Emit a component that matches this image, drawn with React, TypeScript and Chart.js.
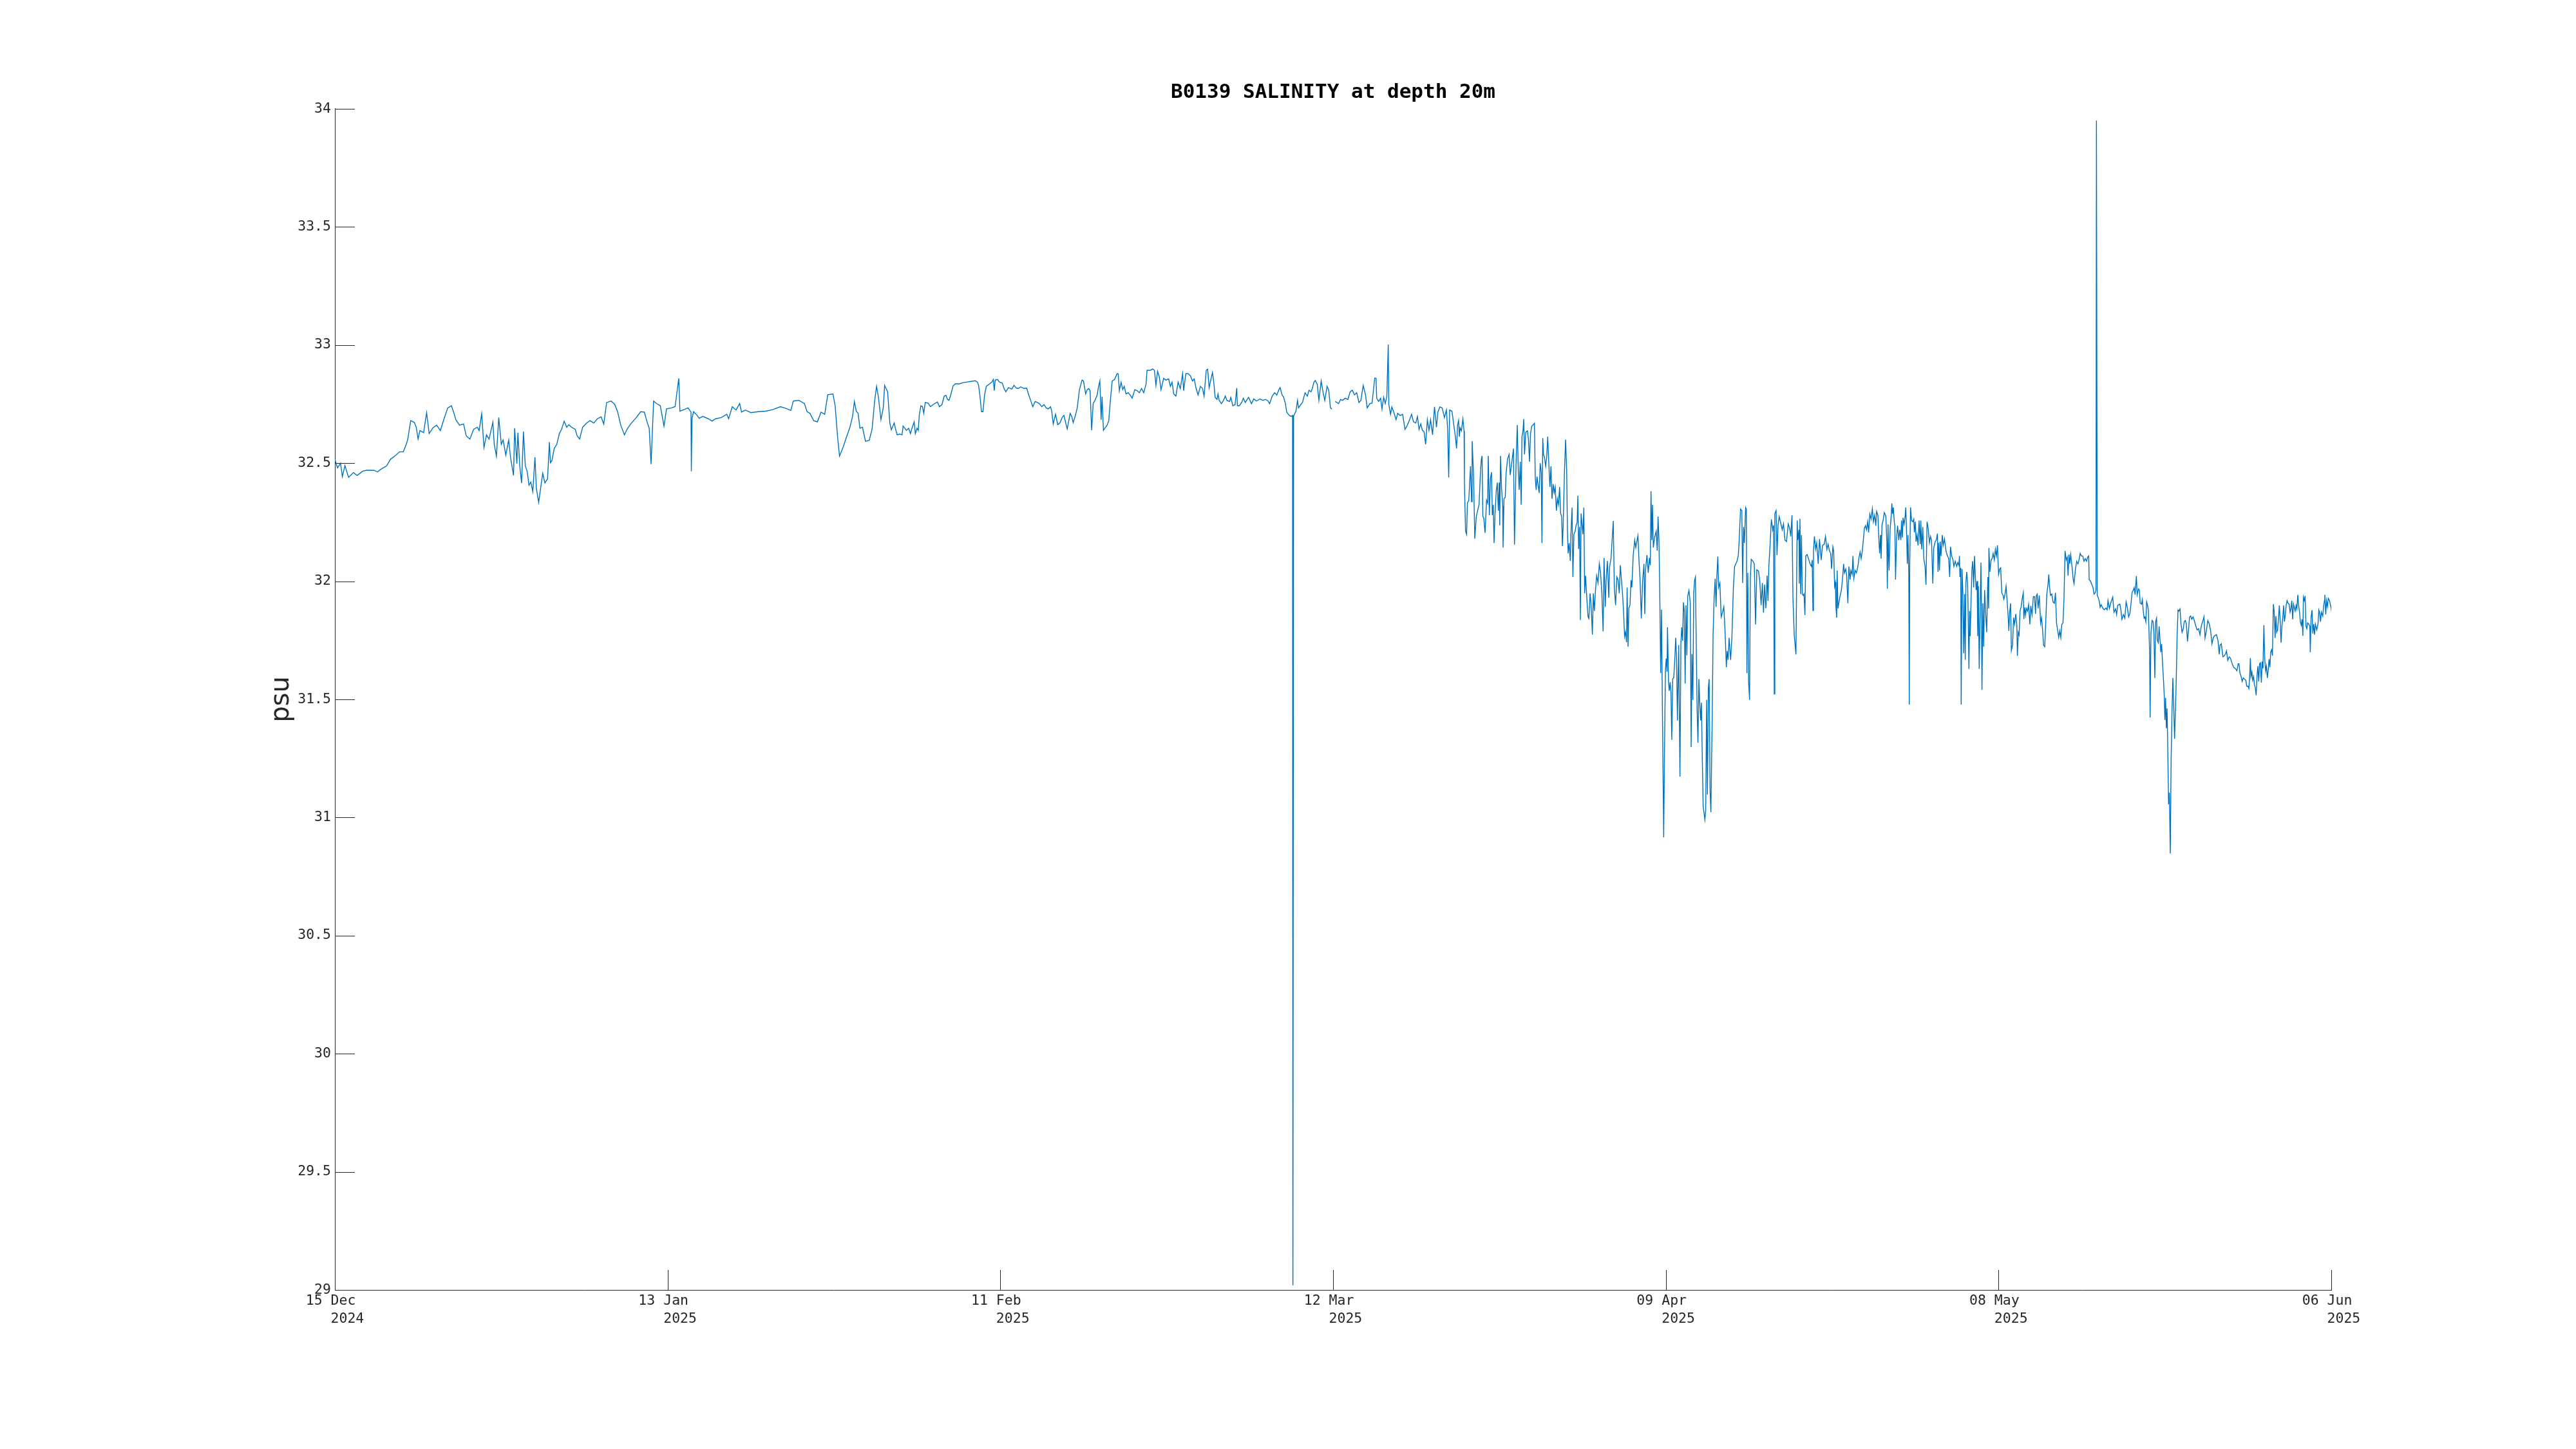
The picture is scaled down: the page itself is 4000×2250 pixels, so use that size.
import React, { useEffect, useRef } from "react";
import { Chart, registerables } from "chart.js";

Chart.register(...registerables);

type Reading = [number, number | null];

// x = days since 15 Dec 2024 00:00, y = salinity (psu)
const decJanReadings: Reading[] = [
  [0.00,32.516],[0.23,32.48],[0.49,32.50],[0.65,32.443],[0.87,32.49],[1.19,32.44],[1.61,32.46],[1.93,32.448],[2.41,32.466],[2.73,32.47],[3.37,32.47],[3.69,32.463],[4.01,32.475],[4.49,32.489],[4.81,32.516],[5.29,32.534],[5.61,32.548],[5.93,32.548],[6.19,32.58],[6.32,32.602],[6.57,32.68],[6.89,32.672],[7.05,32.652],[7.21,32.602],[7.37,32.638],[7.69,32.629],[7.95,32.714],[8.17,32.625],[8.50,32.65],[8.82,32.661],[9.14,32.638],[9.46,32.688],[9.78,32.734],[10.10,32.743],[10.35,32.707],[10.48,32.684],[10.80,32.661],[11.15,32.666],[11.38,32.616],[11.70,32.602],[12.02,32.643],[12.34,32.652],[12.50,32.638],[12.72,32.709],[12.92,32.566],[13.14,32.62],[13.36,32.602],[13.69,32.673],[13.81,32.58],[14.00,32.53],[14.20,32.693],[14.42,32.58],[14.58,32.598],[14.81,32.534],[15.06,32.598],[15.22,32.525],[15.48,32.448],[15.58,32.648],[15.77,32.498],[15.86,32.629],[16.02,32.489],[16.18,32.416],[16.34,32.634],[16.50,32.489],[16.66,32.466],[16.82,32.407],[16.98,32.42],[17.15,32.38],[17.34,32.525],[17.46,32.393],[17.66,32.334],[17.79,32.38],[18.01,32.457],[18.20,32.416],[18.43,32.434],[18.59,32.589],[18.68,32.502],[18.81,32.511],[19.00,32.561],[19.23,32.58],[19.45,32.625],[19.64,32.643],[19.87,32.678],[20.09,32.652],[20.28,32.663],[20.51,32.652],[20.83,32.643],[20.99,32.616],[21.21,32.602],[21.47,32.652],[21.79,32.669],[22.11,32.68],[22.43,32.67],[22.75,32.688],[23.07,32.696],[23.30,32.666],[23.55,32.757],[23.94,32.763],[24.26,32.748],[24.51,32.716],[24.77,32.661],[25.09,32.62],[25.31,32.643],[25.63,32.666],[26.12,32.693],[26.50,32.718],[26.82,32.716],[27.08,32.67],[27.24,32.648],[27.40,32.496],[27.62,32.763],[27.88,32.752],[28.20,32.743],[28.52,32.657],[28.74,32.73],[29.16,32.734],[29.48,32.739],[29.80,32.859],[29.90,32.72],[30.28,32.727],[30.60,32.734],[30.86,32.716],[30.89,32.466],[30.95,32.69],[31.08,32.718],[31.40,32.702],[31.56,32.69],[31.88,32.698],[32.36,32.688],[32.68,32.678],[33.00,32.688],[33.48,32.693],[33.96,32.707],[34.12,32.688],[34.44,32.739],[34.76,32.725],[35.08,32.752],[35.24,32.716],[35.57,32.725],[36.05,32.714],[36.69,32.718],[37.33,32.72],[37.97,32.727],[38.61,32.739],[39.09,32.732],[39.51,32.723],[39.73,32.763],[40.21,32.766],[40.69,32.752],[40.92,32.718],[41.17,32.711],[41.49,32.68],[41.81,32.675],[42.13,32.716],[42.45,32.707],[42.71,32.79],[43.16,32.793],[43.35,32.743],[43.57,32.607],[43.73,32.53],[44.06,32.57],[44.31,32.607],[44.63,32.652],[44.86,32.698],[45.02,32.761],[45.18,32.72],[45.34,32.711],[45.50,32.648],[45.72,32.652],[45.98,32.593],[46.30,32.596],[46.55,32.643],[46.78,32.766],[46.94,32.825],[47.10,32.78],[47.32,32.684],[47.52,32.734],[47.64,32.829],[47.90,32.802],
];

const febReadings: Reading[] = [
  [48.09,32.67],[48.22,32.641],[48.47,32.67],[48.57,32.648],[48.72,32.62],[48.95,32.623],[49.15,32.62],[49.24,32.657],[49.38,32.648],[49.53,32.639],[49.72,32.648],[49.88,32.625],[50.01,32.648],[50.20,32.675],[50.30,32.625],[50.45,32.648],[50.55,32.639],[50.65,32.707],[50.78,32.743],[50.92,32.739],[51.03,32.711],[51.16,32.757],[51.41,32.754],[51.61,32.739],[51.84,32.748],[52.03,32.754],[52.22,32.759],[52.38,32.739],[52.61,32.748],[52.80,32.784],[52.95,32.787],[53.09,32.77],[53.22,32.766],[53.39,32.793],[53.57,32.827],[53.76,32.836],[54.14,32.836],[54.43,32.841],[54.72,32.843],[55.10,32.846],[55.49,32.849],[55.68,32.843],[55.78,32.83],[55.91,32.78],[56.03,32.718],[56.16,32.718],[56.30,32.789],[56.45,32.825],[56.74,32.836],[56.93,32.843],[57.06,32.854],[57.14,32.807],[57.22,32.852],[57.41,32.854],[57.60,32.843],[57.83,32.839],[57.99,32.816],[58.14,32.802],[58.37,32.82],[58.66,32.814],[58.85,32.83],[59.04,32.818],[59.24,32.816],[59.43,32.823],[59.72,32.816],[59.95,32.818],[60.10,32.793],[60.29,32.766],[60.48,32.739],[60.68,32.761],[60.87,32.757],[61.06,32.752],[61.25,32.739],[61.45,32.748],[61.64,32.734],[61.83,32.73],[62.02,32.739],[62.12,32.72],[62.25,32.666],[62.45,32.707],[62.64,32.663],[62.83,32.67],[63.02,32.693],[63.18,32.702],[63.33,32.67],[63.46,32.645],[63.60,32.68],[63.71,32.711],[63.85,32.698],[63.98,32.672],[64.17,32.702],[64.33,32.734],[64.52,32.811],[64.75,32.852],[64.87,32.848],[65.06,32.793],[65.19,32.811],[65.33,32.816],[65.44,32.807],[65.58,32.639],[65.71,32.752],[65.87,32.766],[66.06,32.789],[66.17,32.823],[66.29,32.848],[66.40,32.684],[66.48,32.781],[66.60,32.639],[66.73,32.648],[66.92,32.661],[67.06,32.68],[67.21,32.77],[67.36,32.848],[67.56,32.854],[67.79,32.879],[67.88,32.878],[67.98,32.807],[68.13,32.843],[68.27,32.811],[68.40,32.825],[68.56,32.793],[68.75,32.798],[68.94,32.787],[69.09,32.775],[69.32,32.811],[69.52,32.807],[69.71,32.798],[69.90,32.816],[70.09,32.798],[70.29,32.834],[70.38,32.893],[70.67,32.893],[70.86,32.899],[71.02,32.893],[71.15,32.83],[71.29,32.889],[71.44,32.866],[71.59,32.811],[71.82,32.859],[72.02,32.852],[72.25,32.857],[72.40,32.825],[72.55,32.843],[72.69,32.793],[72.88,32.784],[73.07,32.843],[73.26,32.816],[73.46,32.879],[73.55,32.807],[73.74,32.879],[73.94,32.879],[74.13,32.87],[74.32,32.848],[74.47,32.857],[74.61,32.82],[74.80,32.789],[75.00,32.825],[75.19,32.816],[75.32,32.784],[75.51,32.893],[75.63,32.898],[75.76,32.82],[75.90,32.852],[76.05,32.884],[76.15,32.848],[76.28,32.779],[76.44,32.77],[76.53,32.793],[76.63,32.766],[76.82,32.752],[77.01,32.766],
];

const marReadings: Reading[] = [
  [77.16,32.784],[77.30,32.766],[77.53,32.761],[77.64,32.778],[77.81,32.743],[78.01,32.748],[78.15,32.818],[78.21,32.743],[78.38,32.743],[78.58,32.757],[78.72,32.775],[78.89,32.757],[79.18,32.779],[79.43,32.752],[79.63,32.772],[79.86,32.763],[80.15,32.772],[80.43,32.766],[80.66,32.77],[80.86,32.763],[81.00,32.752],[81.23,32.784],[81.43,32.798],[81.63,32.789],[81.80,32.811],[81.91,32.82],[82.08,32.789],[82.22,32.779],[82.37,32.752],[82.48,32.716],[82.71,32.702],[82.88,32.698],[82.99,32.702],[83.02,29.02],[83.08,32.70],[83.28,32.72],[83.42,32.766],[83.50,32.734],[83.70,32.748],[83.85,32.757],[84.07,32.798],[84.27,32.784],[84.42,32.809],[84.59,32.802],[84.70,32.816],[84.84,32.843],[84.96,32.85],[85.13,32.834],[85.27,32.766],[85.47,32.848],[85.64,32.798],[85.78,32.766],[85.98,32.825],[86.12,32.811],[86.27,32.734],[86.41,32.729],[86.55,null],[86.69,32.761],[86.98,32.752],[87.15,32.77],[87.32,32.766],[87.55,32.775],[87.78,32.77],[87.98,32.802],[88.17,32.809],[88.35,32.789],[88.55,32.798],[88.74,32.757],[88.91,32.766],[89.11,32.829],[89.31,32.789],[89.46,32.734],[89.68,32.752],[89.88,32.754],[90.11,32.86],[90.22,32.86],[90.28,32.775],[90.45,32.761],[90.62,32.775],[90.74,32.729],[90.88,32.779],[91.02,32.752],[91.16,32.784],[91.28,33.002],[91.33,32.748],[91.48,32.707],[91.59,32.738],[91.76,32.716],[91.96,32.684],[92.10,32.711],[92.30,32.702],[92.53,32.707],[92.73,32.643],[92.90,32.657],[93.10,32.68],[93.30,32.707],[93.47,32.675],[93.67,32.67],[93.81,32.698],[93.95,32.643],[94.10,32.666],[94.24,32.639],[94.38,32.634],[94.52,32.58],[94.67,32.684],[94.81,32.639],[94.95,32.684],[95.12,32.62],[95.29,32.738],[95.46,32.652],[95.58,32.716],[95.75,32.738],[95.95,32.734],[96.15,32.693],[96.32,32.725],[96.43,32.643],[96.52,32.439],[96.60,32.725],[96.80,32.72],
];

const aprReadings: Reading[] = [
  [97.10,32.612],[97.20,32.562],[97.29,32.662],[97.38,32.681],[97.44,32.612],[97.51,32.650],[97.62,32.637],[97.75,32.687],[97.85,32.637],[97.88,32.424],[97.98,32.212],[98.07,32.199],[98.14,32.331],[98.26,32.343],[98.41,32.487],[98.50,32.337],[98.55,32.593],[98.67,32.456],[98.78,32.180],[98.91,32.274],[99.06,32.306],[99.15,32.324],[99.26,32.45],[99.34,32.512],[99.41,32.531],[99.48,32.274],[99.56,32.268],[99.67,32.205],[99.80,32.343],[99.89,32.331],[99.95,32.531],[100.04,32.28],[100.14,32.437],[100.23,32.462],[100.30,32.28],[100.38,32.324],[100.45,32.162],[100.53,32.28],[100.64,32.381],[100.73,32.418],[100.82,32.299],[100.90,32.418],[100.94,32.237],[101.01,32.531],[101.10,32.393],[101.20,32.318],[101.23,32.143],[101.31,32.349],[101.42,32.356],[101.49,32.456],[101.62,32.518],[101.75,32.537],[101.85,32.45],[101.98,32.5],[102.13,32.562],[102.22,32.155],[102.35,32.487],[102.46,32.662],[102.55,32.468],[102.63,32.387],[102.72,32.506],[102.80,32.324],[102.87,32.612],[102.96,32.637],[103.02,32.687],[103.09,32.537],[103.20,32.631],[103.34,32.637],[103.43,32.6],[103.52,32.506],[103.61,32.625],[103.71,32.656],[103.84,32.662],[103.95,32.669],[104.02,32.437],[104.10,32.387],[104.17,32.443],[104.27,32.406],[104.36,32.374],[104.45,32.5],[104.54,32.462],[104.60,32.162],[104.67,32.606],[104.73,32.537],[104.82,32.525],[104.92,32.487],[105.01,32.525],[105.10,32.612],[105.20,32.493],[105.29,32.399],[105.38,32.487],[105.47,32.349],[105.57,32.412],[105.66,32.374],[105.75,32.399],[105.85,32.299],[105.94,32.349],[106.03,32.324],[106.13,32.399],[106.22,32.287],[106.31,32.274],[106.37,32.149],[106.44,32.237],[106.55,32.462],[106.65,32.6],[106.74,32.474],[106.81,32.212],[106.87,32.118],[106.96,32.162],[107.06,32.086],[107.11,32.199],[107.21,32.312],[107.28,32.018],[107.37,32.199],[107.48,32.212],[107.56,32.237],[107.65,32.249],[107.71,32.362],[107.78,32.137],[107.86,32.230],[107.93,31.836],[107.99,32.287],[108.08,32.237],[108.15,32.199],[108.23,32.312],[108.30,31.949],[108.38,32.024],[108.45,31.961],[108.54,31.886],[108.60,31.849],[108.67,31.842],[108.77,31.949],[108.86,31.899],[108.97,31.774],[109.05,31.949],[109.14,31.874],[109.23,31.955],[109.34,32.024],[109.46,31.993],[109.57,32.074],[109.68,32.036],[109.79,31.949],[109.90,31.788],[109.98,32.099],[110.09,31.892],[110.16,32.005],[110.27,32.086],[110.39,31.93],[110.46,32.061],[110.59,32.099],[110.68,32.174],[110.78,32.255],[110.87,31.974],[110.98,31.899],[111.09,32.018],[111.20,32.005],[111.30,31.949],[111.39,32.068],[111.48,32.011],[111.58,31.949],[111.67,31.874],[111.76,31.767],[111.84,31.786],[111.93,31.742],[111.98,31.974],[112.06,31.723],[112.13,31.886],[112.23,31.899],[112.32,32.005],[112.39,31.974],[112.51,32.111],[112.64,32.174],[112.73,32.143],[112.82,32.168],[112.92,32.193],[113.01,32.086],[113.10,32.011],[113.21,31.842],[113.32,31.999],[113.44,32.074],[113.51,31.861],[113.58,32.049],[113.70,32.111],[113.81,32.036],[113.92,32.099],[113.99,32.068],[114.05,32.381],[114.12,32.174],[114.18,32.324],[114.25,32.143],[114.37,32.187],[114.50,32.212],[114.59,32.13],[114.66,32.274],[114.74,32.174],[114.81,31.949],[114.89,31.611],[114.96,31.88],[115.04,31.448],[115.15,30.916],[115.22,31.279],[115.30,31.623],[115.37,31.673],[115.44,31.617],[115.48,31.805],[115.57,31.573],[115.63,31.536],[115.71,31.573],[115.78,31.529],[115.85,31.329],[115.93,31.586],[116.02,31.592],[116.11,31.667],[116.19,31.761],[116.26,31.68],[116.34,31.411],[116.45,31.73],[116.56,31.173],[116.64,31.736],[116.71,31.805],[116.79,31.748],[116.86,31.911],[116.93,31.88],[117.01,31.567],[117.08,31.899],[117.16,31.686],[117.23,31.936],[117.34,31.961],[117.45,31.911],[117.53,31.298],[117.60,31.692],[117.68,31.498],[117.75,31.949],[117.83,32.005],[117.90,32.018],[117.98,31.698],[118.05,31.448],[118.12,31.317],[118.20,31.586],[118.27,31.486],[118.35,31.411],[118.42,31.486],[118.50,31.235],[118.57,31.047],[118.64,31.022],[118.72,30.991],[118.79,31.029],[118.87,31.498],[118.94,31.097],[119.02,31.548],[119.09,31.586],[119.17,31.11],[119.24,31.022],[119.35,31.411],[119.43,31.773],[119.52,31.93],[119.61,32.011],[119.69,31.892],[119.76,32.024],[119.84,32.105],[119.91,31.974],[120.02,31.993],[120.13,31.849],[120.24,31.867],[120.36,31.892],[120.47,31.786],[120.58,31.636],[120.65,31.705],[120.73,31.667],[120.82,31.761],[120.95,31.667],[121.06,31.761],[121.19,31.974],[121.29,32.061],[121.40,32.074],[121.51,32.086],[121.62,32.111],[121.69,32.174],[121.81,32.306],[121.92,32.299],[121.99,31.993],[122.07,32.23],[122.14,32.162],[122.25,32.312],[122.31,32.306],[122.36,31.611],[122.44,32.036],[122.51,31.573],[122.59,31.498],[122.66,32.018],[122.74,32.093],[122.87,32.086],[123.00,32.074],[123.11,31.817],[123.22,32.049],[123.37,32.043],[123.48,31.999],[123.59,31.899],[123.70,31.993],[123.80,31.867],[123.89,31.986],[124.00,31.886],[124.11,32.024],[124.19,31.917],[124.26,32.061],[124.37,32.155],[124.48,32.262],[124.60,32.218],[124.67,32.237],[124.73,31.523],[124.78,32.287],[124.89,32.299],[124.97,32.111],[125.06,32.237],[125.16,32.274],[125.29,32.247],[125.42,32.218],[125.53,32.243],[125.66,32.174],[125.79,32.168],[125.94,32.243],
];

const mayReadings: Reading[] = [
  [126.07,32.224],[126.16,32.19],[126.27,32.28],[126.35,31.929],[126.46,31.773],[126.61,31.690],[126.72,32.257],[126.77,32.174],[126.87,32.218],[126.90,31.99],[126.96,32.265],[127.02,31.946],[127.09,32.196],[127.16,31.946],[127.24,31.94],[127.31,31.946],[127.39,31.857],[127.46,32.107],[127.57,32.113],[127.70,32.096],[127.83,32.074],[127.95,32.063],[128.02,32.09],[128.08,31.876],[128.13,32.129],[128.21,32.19],[128.32,32.135],[128.41,32.163],[128.54,32.074],[128.65,32.179],[128.80,32.09],[128.91,32.152],[129.06,32.157],[129.17,32.19],[129.29,32.135],[129.40,32.157],[129.51,32.129],[129.62,32.118],[129.70,32.052],[129.81,32.146],[129.88,32.129],[129.96,31.979],[130.03,31.996],[130.07,31.896],[130.14,31.846],[130.18,32.046],[130.25,31.885],[130.40,31.929],[130.55,31.963],[130.64,32.007],[130.74,32.074],[130.81,32.035],[130.92,32.052],[131.00,32.029],[131.11,31.907],[131.20,32.063],[131.30,32.007],[131.37,32.046],[131.48,32.029],[131.55,32.107],[131.63,32.013],[131.74,32.046],[131.85,32.035],[131.98,32.063],[132.08,32.102],[132.17,32.124],[132.26,32.096],[132.35,32.124],[132.45,32.174],[132.54,32.224],[132.63,32.235],[132.73,32.218],[132.82,32.252],[132.91,32.207],[133.01,32.285],[133.12,32.263],[133.23,32.307],[133.32,32.252],[133.43,32.28],[133.53,32.235],[133.60,32.296],[133.71,32.28],[133.79,32.185],[133.86,32.118],[133.94,32.196],[133.99,32.096],[134.07,32.241],[134.16,32.257],[134.27,32.291],[134.40,32.276],[134.49,32.163],[134.53,31.968],[134.59,32.241],[134.64,32.107],[134.68,32.046],[134.77,32.218],[134.87,32.28],[134.92,32.33],[134.98,32.285],[135.05,32.313],[135.13,32.252],[135.18,32.235],[135.24,32.007],[135.33,32.185],[135.42,32.235],[135.52,32.174],[135.61,32.218],[135.70,32.174],[135.76,32.257],[135.83,32.185],[135.89,32.269],[135.98,32.241],[136.07,32.274],[136.13,32.313],[136.21,32.185],[136.26,32.074],[136.32,32.196],[136.39,32.024],[136.43,31.478],[136.47,32.074],[136.54,32.313],[136.63,32.257],[136.73,32.252],[136.82,32.263],[136.87,32.207],[136.95,32.252],[137.02,32.168],[137.10,32.196],[137.19,32.152],[137.28,32.257],[137.38,32.157],[137.43,32.257],[137.51,32.135],[137.60,32.23],[137.69,32.096],[137.80,32.063],[137.88,31.985],[137.97,32.252],[138.07,32.224],[138.18,32.163],[138.27,32.19],[138.36,32.174],[138.47,31.99],[138.55,32.141],[138.68,32.168],[138.77,32.174],[138.87,32.202],[138.92,32.04],[138.98,32.163],[139.05,32.046],[139.11,32.168],[139.18,32.107],[139.29,32.196],[139.37,32.152],[139.48,32.179],[139.61,32.129],[139.74,32.107],[139.85,32.096],[139.93,32.018],[140.00,32.146],[140.11,32.107],[140.22,32.09],[140.30,32.063],[140.41,32.085],[140.54,32.063],[140.63,32.079],[140.73,32.068],[140.78,32.107],[140.82,32.018],[140.89,32.057],[140.93,31.478],[141.00,32.052],[141.08,31.946],[141.15,31.695],[141.23,31.946],[141.28,31.668],[141.34,31.996],[141.41,32.04],[141.49,31.985],[141.54,31.84],[141.60,31.629],[141.66,31.874],[141.71,31.768],[141.79,31.929],[141.86,32.052],[141.93,32.085],[142.01,31.974],[142.08,32.107],[142.16,32.018],[142.23,31.963],[142.31,32.001],[142.36,31.768],[142.42,31.979],[142.49,31.629],[142.57,31.868],[142.64,32.079],[142.68,31.907],[142.73,31.54],[142.81,31.907],[142.88,31.723],[142.96,31.963],[143.05,31.862],[143.14,31.784],[143.24,32.018],[143.31,31.885],[143.33,32.141],[143.42,32.04],[143.52,32.09],[143.61,32.096],[143.70,32.118],[143.80,32.09],[143.89,32.135],[143.98,32.107],[144.07,32.152],[144.17,32.029],[144.26,32.052],[144.35,32.057],[144.45,31.951],[144.54,31.942],[144.63,31.924],[144.73,31.946],[144.82,31.979],[144.91,31.918],[145.00,31.851],[145.06,31.79],[145.13,31.868],[145.21,31.907],[145.28,31.707],[145.38,31.729],[145.47,31.846],[145.56,31.818],[145.66,31.862],[145.75,31.812],[145.80,31.684],[145.88,31.784],[145.95,31.773],[146.03,31.874],[146.12,31.89],[146.21,31.924],[146.31,31.951],[146.36,31.84],[146.44,31.89],[146.51,31.857],[146.58,31.885],[146.68,31.874],[146.77,31.901],[146.88,31.818],[146.96,31.896],[147.07,31.857],[147.18,31.935],[147.29,31.935],[147.37,31.862],[147.44,31.94],[147.52,31.946],[147.59,31.885],[147.70,31.94],[147.81,31.823],[147.89,31.846],[147.98,31.796],[148.07,31.729],[148.17,31.723],[148.26,31.829],[148.35,31.946],[148.45,31.985],[148.52,32.029],[148.59,31.974],[148.67,31.94],[148.78,31.946],[148.89,31.912],[149.00,31.907],[149.10,31.951],[149.19,31.823],[149.28,31.796],[149.38,31.762],[149.47,31.79],[149.56,31.762],[149.65,31.818],[149.75,31.823],[149.84,31.929],[149.93,32.129],[150.03,32.09],[150.12,32.102],[150.19,32.024],[150.27,32.113],[150.34,32.074],[150.42,32.113],[150.53,32.063],[150.64,32.007],[150.71,31.99],[150.83,32.052],[150.94,32.085],[151.05,32.074],[151.14,32.09],[151.24,32.118],[151.35,32.107],[151.46,32.107],[151.57,32.085],[151.68,32.096],[151.79,32.085],[151.89,32.102],[151.98,32.107],[152.02,32.007],[152.13,32.001],[152.26,31.985],[152.35,31.974],[152.44,31.946],[152.54,31.951],[152.61,31.963],[152.65,33.95],[152.72,31.94],[152.82,31.929],[152.91,31.912],[152.97,31.89],[153.06,31.901],[153.19,31.887],[153.32,31.879],[153.47,31.887],[153.58,31.879],[153.65,31.918],[153.77,31.885],[153.88,31.907],
];

const junReadings: Reading[] = [
  [154.06,31.933],[154.17,31.869],[154.31,31.883],[154.40,31.859],[154.49,31.898],[154.68,31.903],[154.77,31.878],[154.86,31.839],[154.99,31.859],[155.11,31.844],[155.22,31.913],[155.33,31.888],[155.44,31.849],[155.55,31.864],[155.66,31.913],[155.74,31.953],[155.85,31.963],[155.92,31.973],[156.00,31.943],[156.11,32.022],[156.18,31.943],[156.30,31.968],[156.37,31.963],[156.44,31.908],[156.56,31.903],[156.63,31.923],[156.70,31.878],[156.78,31.844],[156.85,31.849],[156.93,31.829],[157.00,31.913],[157.08,31.898],[157.15,31.878],[157.19,31.809],[157.26,31.7],[157.30,31.423],[157.37,31.779],[157.47,31.834],[157.56,31.829],[157.63,31.779],[157.71,31.591],[157.78,31.829],[157.86,31.844],[157.93,31.75],[158.01,31.74],[158.08,31.809],[158.16,31.75],[158.23,31.7],[158.30,31.735],[158.38,31.651],[158.45,31.591],[158.53,31.512],[158.58,31.413],[158.64,31.507],[158.71,31.378],[158.77,31.462],[158.83,31.294],[158.90,31.056],[158.97,31.105],[159.05,30.848],[159.12,31.244],[159.20,31.452],[159.27,31.591],[159.35,31.462],[159.42,31.333],[159.50,31.462],[159.57,31.591],[159.64,31.769],[159.72,31.878],[159.79,31.874],[159.89,31.883],[159.98,31.819],[160.07,31.784],[160.17,31.799],[160.26,31.829],[160.35,31.834],[160.44,31.819],[160.54,31.745],[160.63,31.794],[160.72,31.849],[160.82,31.853],[160.91,31.839],[161.02,31.849],[161.13,31.834],[161.24,31.814],[161.37,31.794],[161.50,31.799],[161.62,31.774],[161.75,31.814],[161.88,31.834],[161.97,31.849],[162.06,31.76],[162.17,31.789],[162.30,31.834],[162.43,31.819],[162.55,31.789],[162.66,31.735],[162.77,31.76],[162.88,31.769],[163.05,31.774],[163.18,31.75],[163.29,31.69],[163.36,31.73],[163.47,31.735],[163.61,31.68],[163.74,31.685],[163.85,31.695],[163.92,31.705],[164.03,31.665],[164.15,31.68],[164.26,31.675],[164.41,31.651],[164.54,31.636],[164.67,31.631],[164.82,31.621],[164.93,31.651],[165.00,31.651],[165.09,31.611],[165.19,31.596],[165.28,31.576],[165.37,31.591],[165.48,31.586],[165.60,31.581],[165.67,31.556],[165.78,31.556],[165.86,31.546],[165.93,31.601],[165.99,31.675],[166.04,31.596],[166.12,31.616],[166.19,31.581],[166.27,31.596],[166.34,31.561],[166.41,31.551],[166.49,31.517],[166.56,31.596],[166.64,31.641],[166.71,31.576],[166.79,31.651],[166.86,31.655],[166.94,31.571],[167.01,31.66],[167.08,31.631],[167.16,31.814],[167.23,31.675],[167.31,31.621],[167.38,31.641],[167.46,31.591],[167.53,31.621],[167.61,31.67],[167.68,31.636],[167.75,31.7],[167.83,31.71],[167.90,31.685],[167.98,31.903],[168.05,31.874],[168.13,31.76],[168.20,31.853],[168.27,31.784],[168.35,31.794],[168.42,31.839],[168.50,31.898],[168.57,31.834],[168.65,31.74],[168.72,31.809],[168.80,31.849],[168.87,31.898],[168.94,31.829],[169.02,31.859],[169.09,31.898],[169.17,31.918],[169.24,31.908],[169.35,31.903],[169.43,31.869],[169.50,31.883],[169.58,31.918],[169.65,31.839],[169.73,31.903],[169.80,31.888],[169.87,31.874],[169.95,31.898],[170.02,31.883],[170.10,31.943],[170.17,31.898],[170.25,31.869],[170.32,31.829],[170.40,31.814],[170.47,31.839],[170.54,31.769],[170.58,31.933],[170.66,31.918],[170.73,31.938],[170.81,31.809],[170.88,31.799],[170.95,31.824],[171.05,31.819],[171.14,31.809],[171.18,31.7],[171.25,31.849],[171.33,31.878],[171.40,31.779],[171.47,31.819],[171.55,31.774],[171.62,31.819],[171.74,31.794],[171.85,31.819],[171.92,31.878],[172.00,31.864],[172.07,31.829],[172.14,31.869],[172.26,31.853],[172.33,31.893],[172.41,31.918],[172.44,31.943],[172.52,31.859],[172.59,31.918],[172.67,31.893],[172.74,31.928],[172.85,31.918],[172.96,31.893],[173.04,31.869],[173.07,31.764],
];

const xTickDays = [0, 28.833, 57.667, 86.5, 115.333, 144.167, 173];
const xTickLabels = [
  ["15 Dec ", "   2024"],
  ["13 Jan ", "   2025"],
  ["11 Feb ", "   2025"],
  ["12 Mar ", "   2025"],
  ["09 Apr ", "   2025"],
  ["08 May ", "   2025"],
  ["06 Jun ", "   2025"],
];
const yTickValues = [29, 29.5, 30, 30.5, 31, 31.5, 32, 32.5, 33, 33.5, 34];
const yTickLabels = ["29", "29.5", "30", "30.5", "31", "31.5", "32", "32.5", "33", "33.5", "34"];

const chartTitle = "B0139 SALINITY at depth 20m";
const yAxisTitle = "psu";

const AXIS_COLOR = "#262626";
const MONO = "'DejaVu Sans Mono', monospace";

const innerTicks = {
  id: "innerTicks",
  beforeDatasetsDraw(chart: any) {
    const { ctx, chartArea, scales } = chart;
    const len = 31;
    ctx.save();
    ctx.strokeStyle = AXIS_COLOR;
    ctx.lineWidth = 1;
    ctx.beginPath();
    for (const v of yTickValues) {
      const y = Math.round(scales.y.getPixelForValue(v)) + 0.5;
      ctx.moveTo(chartArea.left, y);
      ctx.lineTo(chartArea.left + len, y);
    }
    for (const v of xTickDays) {
      const x = Math.round(scales.x.getPixelForValue(v)) + 0.5;
      ctx.moveTo(x, chartArea.bottom);
      ctx.lineTo(x, chartArea.bottom - len);
    }
    ctx.stroke();
    ctx.restore();
  },
};

export default function App() {
  const canvasRef = useRef<HTMLCanvasElement>(null);

  useEffect(() => {
    const all: Reading[] = [
      ...decJanReadings,
      ...febReadings,
      ...marReadings,
      ...aprReadings,
      ...mayReadings,
      ...junReadings,
    ];
    const chart = new Chart(canvasRef.current as HTMLCanvasElement, {
      type: "line",
      data: {
        datasets: [
          {
            data: all.map(([x, y]) => ({ x, y })) as any,
            borderColor: "#0072BD",
            backgroundColor: "#0072BD",
            borderWidth: 1.4,
            pointRadius: 0,
            pointHoverRadius: 0,
            tension: 0,
            fill: false,
            spanGaps: false,
          },
        ],
      },
      options: {
        responsive: false,
        maintainAspectRatio: false,
        animation: false,
        devicePixelRatio: 1,
        events: [],
        layout: { padding: { left: 0, top: 0, right: 380, bottom: 0 } },
        plugins: {
          legend: { display: false },
          tooltip: { enabled: false },
          title: {
            display: true,
            text: chartTitle,
            fullSize: false,
            color: "#000000",
            font: { family: MONO, size: 31, weight: "bold", lineHeight: 1.2 },
            padding: { top: 125.6, bottom: 6.2 },
          },
        },
        scales: {
          x: {
            type: "linear",
            position: "bottom",
            min: 0,
            max: 173,
            grid: { display: false, drawTicks: false },
            border: { display: true, color: AXIS_COLOR, width: 1 },
            ticks: {
              autoSkip: false,
              maxRotation: 0,
              minRotation: 0,
              padding: 3,
              color: AXIS_COLOR,
              font: { family: MONO, size: 21.5, lineHeight: 1.31 },
              callback: (_v: any, i: number) => xTickLabels[i],
            },
            afterBuildTicks: (axis: any) => {
              axis.ticks = xTickDays.map((v) => ({ value: v }));
            },
            afterFit: (axis: any) => {
              axis.height = 247;
            },
          },
          y: {
            type: "linear",
            position: "left",
            min: 29,
            max: 34,
            grid: { display: false, drawTicks: false },
            border: { display: true, color: AXIS_COLOR, width: 1 },
            ticks: {
              padding: 6,
              color: AXIS_COLOR,
              font: { family: MONO, size: 21.5 },
              callback: (_v: any, i: number) => yTickLabels[i],
            },
            afterBuildTicks: (axis: any) => {
              axis.ticks = yTickValues.map((v) => ({ value: v }));
            },
            afterFit: (axis: any) => {
              axis.width = 520;
            },
            title: {
              display: true,
              text: yAxisTitle,
              color: AXIS_COLOR,
              font: { family: "'DejaVu Sans', sans-serif", size: 40, lineHeight: 1.2 },
              padding: { top: 414, bottom: 0 },
            },
          },
        },
      },
      plugins: [innerTicks],
    });
    return () => chart.destroy();
  }, []);

  return (
    <div style={{ position: "absolute", left: 0, top: 0, width: 4000, height: 2250, background: "#ffffff" }}>
      <canvas ref={canvasRef} width={4000} height={2250} style={{ display: "block", width: 4000, height: 2250 }} />
    </div>
  );
}
